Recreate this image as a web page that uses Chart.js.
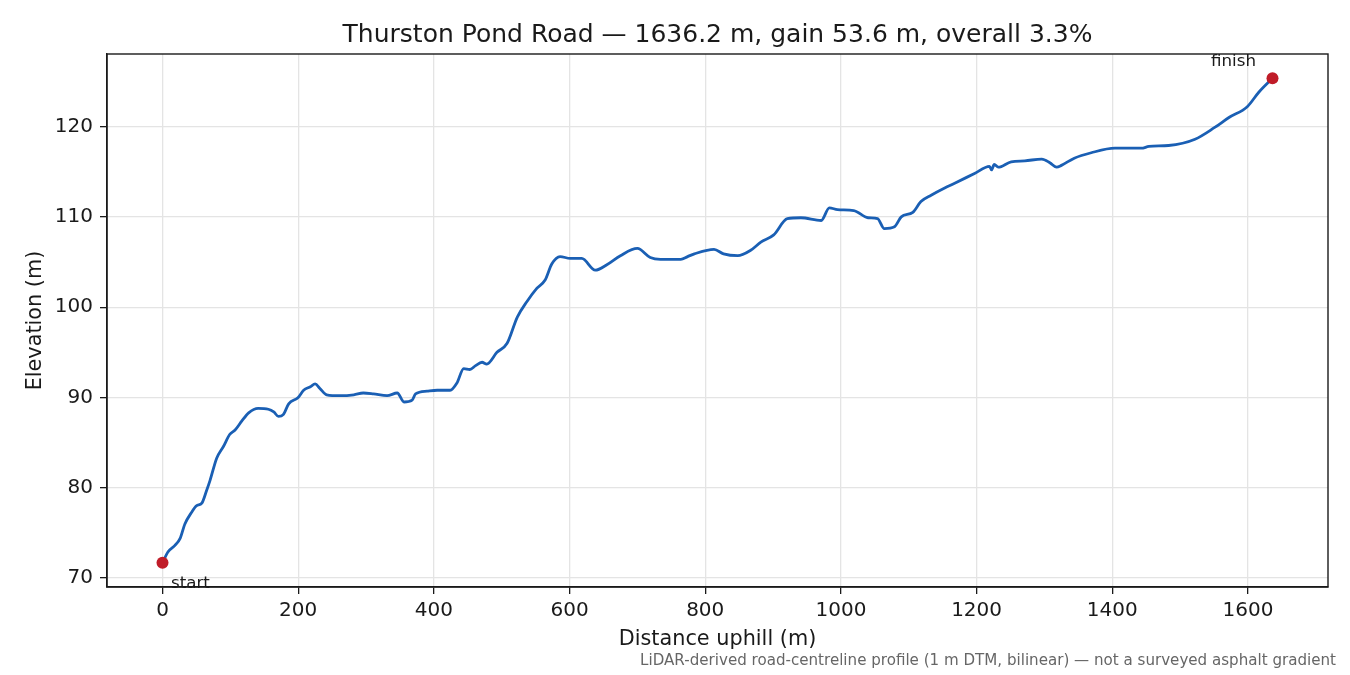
<!DOCTYPE html>
<html>
<head>
<meta charset="utf-8">
<script src="https://cdn.jsdelivr.net/npm/chart.js@4.4.1/dist/chart.umd.min.js"></script>
<style>
  html, body { margin: 0; padding: 0; background: #ffffff; }
  #wrap { width: 1350px; height: 675px; }
</style>
</head>
<body>
<div id="wrap"><canvas id="c" width="1350" height="675"></canvas></div>
<script>
// ---- data ----
const distances = [0, 8, 18, 26, 33, 43, 50, 58, 65, 70, 80, 90, 99, 107, 117, 127, 141, 156, 164, 171, 178, 186,
  200, 208, 218, 225, 232, 242, 262, 282, 296, 311, 331, 346, 356, 368, 373, 390, 405, 424, 434, 444, 453, 461,
  471, 478, 493, 508, 523, 537, 552, 564, 574, 586, 601, 618, 638, 655, 675, 700, 719, 734, 764, 774, 784, 813,
  827, 848, 867, 882, 901, 921, 941, 971, 983, 995, 1019, 1040, 1054, 1064, 1079, 1089, 1106, 1118, 1133, 1153,
  1167, 1197, 1219, 1222, 1226, 1232, 1251, 1271, 1296, 1308, 1318, 1325, 1344, 1369, 1404, 1443, 1454, 1483,
  1522, 1551, 1572, 1599, 1616, 1636.2];
const elevations = [71.7, 72.9, 73.6, 74.4, 76.0, 77.3, 78.0, 78.3, 79.7, 80.8, 83.3, 84.6, 85.9, 86.4, 87.4, 88.3, 88.8, 88.7, 88.4, 87.9, 88.1, 89.3,
  90.0, 90.8, 91.2, 91.5, 91.0, 90.3, 90.2, 90.3, 90.5, 90.4, 90.2, 90.5, 89.5, 89.7, 90.4, 90.7, 90.8, 90.8, 91.6, 93.2, 93.1, 93.5,
  93.9, 93.7, 95.0, 96.0, 98.9, 100.6, 102.1, 103.0, 104.8, 105.6, 105.4, 105.4, 104.1, 104.7, 105.7, 106.5, 105.5, 105.3, 105.3, 105.6, 105.9, 106.4,
  105.9, 105.7, 106.3, 107.2, 108.0, 109.8, 109.9, 109.6, 111.0, 110.8, 110.7, 109.9, 109.8, 108.7, 108.9, 110.0, 110.5, 111.7, 112.4, 113.2,
  113.7, 114.8, 115.6, 115.2, 115.8, 115.5, 116.1, 116.2, 116.4, 116.0, 115.5, 115.7, 116.5, 117.1, 117.6, 117.6, 117.8, 117.9,
  118.6, 119.9, 121.0, 122.2, 123.8, 125.35];
const endpointLabels = ['start', 'finish'];
const xTicks = [0, 200, 400, 600, 800, 1000, 1200, 1400, 1600];
const yTicks = [70, 80, 90, 100, 110, 120];
const titleText = 'Thurston Pond Road \u2014 1636.2 m, gain 53.6 m, overall 3.3%';
const xLabel = 'Distance uphill (m)';
const yLabel = 'Elevation (m)';
const footnote = 'LiDAR-derived road-centreline profile (1 m DTM, bilinear) \u2014 not a surveyed asphalt gradient';

// ---- derived structures ----
const profile = distances.map((d, i) => ({ x: d, y: elevations[i] }));
const last = distances.length - 1;
const endpoints = [
  { x: distances[0], y: elevations[0] },
  { x: distances[last], y: elevations[last] }
];
const xSpan = distances[last] - distances[0];
const yMinV = Math.min(...elevations), yMaxV = Math.max(...elevations);
const ySpan = yMaxV - yMinV;

const FONT = "'DejaVu Sans', 'Liberation Sans', sans-serif";
const INK = '#1a1a1a';

const decor = {
  id: 'decor',
  afterDraw(chart) {
    const ctx = chart.ctx;
    const a = chart.chartArea;
    const xs = chart.scales.x, ys = chart.scales.y;
    ctx.save();
    // full frame (spines)
    ctx.strokeStyle = INK;
    ctx.lineWidth = 1.4;
    ctx.strokeRect(a.left, a.top, a.right - a.left, a.bottom - a.top);

    // endpoint annotations
    ctx.fillStyle = INK;
    ctx.font = '16.7px ' + FONT;
    const p0x = xs.getPixelForValue(endpoints[0].x), p0y = ys.getPixelForValue(endpoints[0].y);
    const p1x = xs.getPixelForValue(endpoints[1].x), p1y = ys.getPixelForValue(endpoints[1].y);
    ctx.textBaseline = 'alphabetic';
    ctx.textAlign = 'left';
    ctx.fillText(endpointLabels[0], p0x + 8.5, p0y + 25);
    ctx.textAlign = 'right';
    ctx.fillText(endpointLabels[1], p1x - 16.5, p1y - 12.5);

    // title
    ctx.textAlign = 'center';
    ctx.font = '25px ' + FONT;
    ctx.fillStyle = INK;
    ctx.fillText(titleText, (a.left + a.right) / 2, 42);

    // axis labels
    ctx.font = '20.8px ' + FONT;
    ctx.fillText(xLabel, (a.left + a.right) / 2, 645);
    ctx.save();
    ctx.translate(41, (a.top + a.bottom) / 2);
    ctx.rotate(-Math.PI / 2);
    ctx.textAlign = 'center';
    ctx.fillText(yLabel, 0, 0);
    ctx.restore();

    // footnote
    ctx.font = '15.1px ' + FONT;
    ctx.fillStyle = '#666666';
    ctx.textAlign = 'right';
    ctx.fillText(footnote, 1336, 665);
    ctx.restore();
  }
};

new Chart(document.getElementById('c'), {
  type: 'line',
  data: {
    datasets: [
      {
        type: 'scatter',
        data: endpoints,
        pointRadius: 6,
        pointHoverRadius: 6,
        pointBackgroundColor: '#c01c28',
        pointBorderWidth: 0,
        showLine: false
      },
      {
        data: profile,
        borderColor: '#1a5fb4',
        borderWidth: 2.8,
        pointRadius: 0,
        fill: false,
        cubicInterpolationMode: 'monotone',
        borderJoinStyle: 'round',
        borderCapStyle: 'round'
      }
    ]
  },
  options: {
    responsive: false,
    animation: false,
    devicePixelRatio: 1,
    events: [],
    layout: { padding: { top: 54, right: 22, left: 0, bottom: 0 } },
    plugins: { legend: { display: false }, tooltip: { enabled: false }, title: { display: false } },
    scales: {
      x: {
        type: 'linear',
        min: distances[0] - 0.05 * xSpan,
        max: distances[last] + 0.05 * xSpan,
        afterFit(s) { s.height = 88; },
        afterBuildTicks(s) { s.ticks = xTicks.map(v => ({ value: v })); },
        ticks: { color: INK, font: { family: FONT, size: 20 }, padding: 5, maxRotation: 0,
                 callback: v => String(v) },
        grid: { color: '#e4e4e4', lineWidth: 1.3, tickColor: INK, tickLength: 7, tickWidth: 1.3 },
        border: { display: true, color: INK, width: 1.4 }
      },
      y: {
        type: 'linear',
        min: yMinV - 0.05 * ySpan,
        max: yMaxV + 0.05 * ySpan,
        afterFit(s) { s.width = 107; },
        afterBuildTicks(s) { s.ticks = yTicks.map(v => ({ value: v })); },
        ticks: { color: INK, font: { family: FONT, size: 20 }, padding: 7,
                 callback: v => String(v) },
        grid: { color: '#e4e4e4', lineWidth: 1.3, tickColor: INK, tickLength: 7, tickWidth: 1.3 },
        border: { display: true, color: INK, width: 1.4 }
      }
    }
  },
  plugins: [decor]
});
</script>
</body>
</html>
